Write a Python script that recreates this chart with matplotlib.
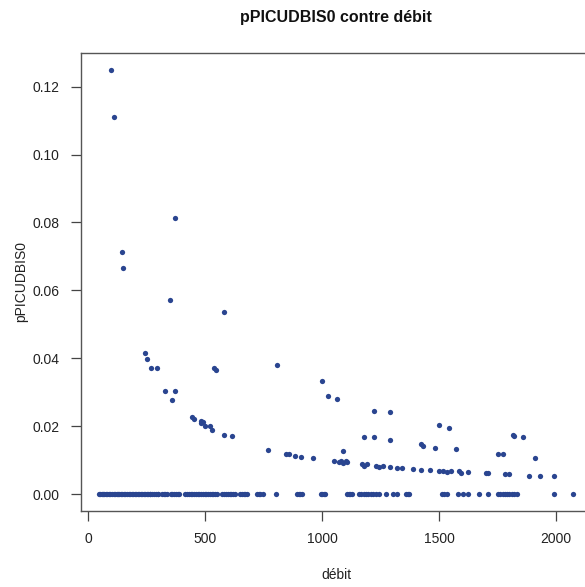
import matplotlib
matplotlib.use("Agg")
import matplotlib.pyplot as plt
from matplotlib.ticker import FormatStrFormatter

plt.rcParams["font.family"] = ["Liberation Sans", "DejaVu Sans"]

# non-zero observations (debit, pPICUDBIS0)
debit_pos = [98, 109, 372, 143, 150, 351, 582, 241, 249, 268, 292, 330, 372, 359,
             538, 548, 809, 1000, 1023, 1063, 442, 450, 481, 490, 481, 501, 521, 530,
             582, 613, 770, 846, 860, 882, 911, 960, 1220, 1291, 1180, 1220, 1291,
             1501, 1541, 1422, 1431, 1482, 1571, 1815, 1822, 1861, 1753, 1772, 1912,
             1091, 1050, 1070, 1080, 1089, 1100, 1108, 1172, 1180, 1192, 1231, 1243,
             1260, 1291, 1322, 1342, 1390, 1422, 1462, 1501, 1518, 1533, 1553, 1584,
             1593, 1623, 1701, 1711, 1781, 1800, 1884, 1932, 1991]
p_pos = [0.1249, 0.1112, 0.0812, 0.0713, 0.0667, 0.0571, 0.0536, 0.0416, 0.0399, 0.0370,
         0.0370, 0.0304, 0.0304, 0.0276, 0.0371, 0.0364, 0.0381, 0.0334, 0.0290, 0.0281,
         0.0228, 0.0221, 0.0216, 0.0213, 0.0208, 0.0201, 0.0201, 0.0190, 0.0173, 0.0170,
         0.0130, 0.0119, 0.0119, 0.0112, 0.0110, 0.0107, 0.0246, 0.0241, 0.0169, 0.0167,
         0.0159, 0.0202, 0.0195, 0.0146, 0.0141, 0.0135, 0.0132, 0.0173, 0.0170, 0.0167,
         0.0118, 0.0118, 0.0107, 0.0126, 0.0096, 0.0095, 0.0096, 0.0090, 0.0098, 0.0093,
         0.0089, 0.0084, 0.0089, 0.0084, 0.0081, 0.0083, 0.0080, 0.0077, 0.0077, 0.0075,
         0.0072, 0.0072, 0.0069, 0.0069, 0.0066, 0.0067, 0.0067, 0.0063, 0.0064, 0.0061,
         0.0061, 0.0058, 0.0058, 0.0052, 0.0054, 0.0052]

# observations with pPICUDBIS0 = 0
debit_zero = [44, 50, 57, 63, 69, 75, 82, 88, 94, 101, 108, 114, 121, 127, 133, 140, 146,
              153, 159, 166, 172, 179, 185, 191, 198, 204, 211, 217, 224, 230, 237, 243,
              250, 256, 262, 265, 272, 280, 288, 296, 300, 315, 322, 330, 338, 353, 360,
              368, 375, 382, 386, 415, 423, 430, 438, 445, 452, 460, 467, 475, 482, 490,
              497, 505, 512, 520, 527, 535, 542, 550, 572, 580, 588, 596, 604, 612, 620,
              628, 650, 658, 665, 672, 678, 721, 728, 736, 746, 802, 892, 900, 906, 913,
              995, 1000, 1006, 1013, 1106, 1113, 1120, 1127, 1159, 1168, 1177, 1187, 1198,
              1208, 1219, 1230, 1241, 1272, 1302, 1322, 1359, 1366, 1373, 1511, 1520, 1533,
              1582, 1604, 1625, 1671, 1711, 1753, 1762, 1772, 1780, 1789, 1800, 1811, 1822,
              1835, 1991, 2073]

xticks = [0, 500, 1000, 1500, 2000]
yticks = [0.00, 0.02, 0.04, 0.06, 0.08, 0.10, 0.12]

col = "#2A4590"

fig = plt.figure(figsize=(5.85, 5.87), dpi=100)
ax = fig.add_axes([80.6 / 585, 76 / 587, (592 - 80.6) / 585, (534.3 - 76) / 587])

ax.plot(debit_pos, p_pos, "o", color=col, markersize=3.8, markeredgewidth=0)
ax.plot(debit_zero, [0.0] * len(debit_zero), "o", color=col, markersize=3.8,
        markeredgewidth=0)

ax.set_xlim(-33, 2154)
ax.set_ylim(-0.005, 0.13)
ax.set_xticks(xticks)
ax.set_yticks(yticks)
ax.yaxis.set_major_formatter(FormatStrFormatter("%.2f"))

for s in ax.spines.values():
    s.set_color("#555555")
    s.set_linewidth(1.0)
ax.tick_params(direction="out", length=7, width=0.9, color="#444444",
               labelsize=10, labelcolor="#222222", pad=8)

ax.set_title("pPICUDBIS0 contre débit", fontsize=11.5, fontweight="bold",
             color="#111111", pad=22)
ax.set_xlabel("débit", fontsize=10, color="#222222", labelpad=16)
ax.set_ylabel("pPICUDBIS0", fontsize=10, color="#222222", labelpad=3)

fig.savefig("out.png", dpi=100)
